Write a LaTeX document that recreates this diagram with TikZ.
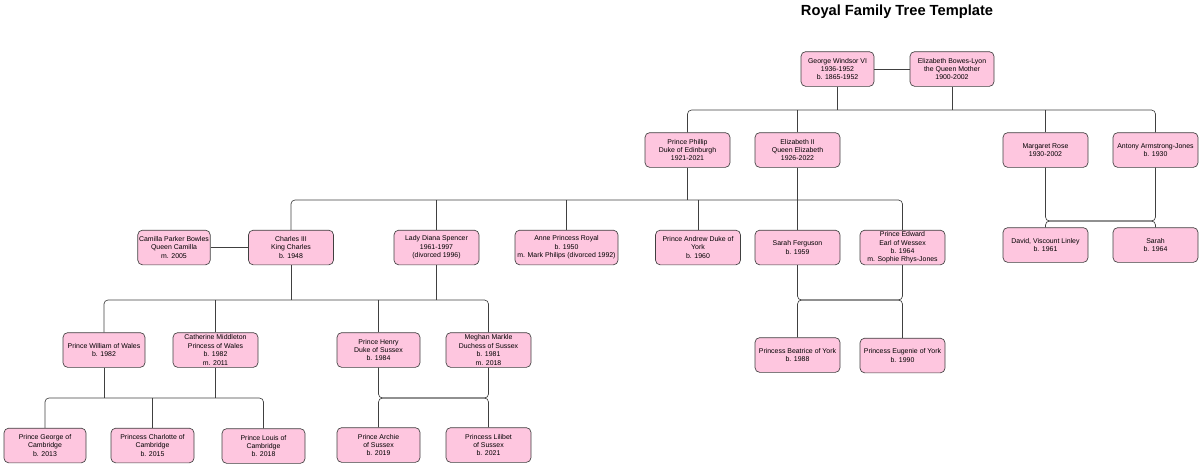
\documentclass[tikz,border=0pt]{standalone}
\usepackage{fontspec}
\setmainfont{Liberation Sans}
\begin{document}
\begin{tikzpicture}[x=0.75pt,y=-0.75pt,
  box/.style={draw=black!75,fill=pinkf,rounded corners=3.5pt,align=center,font=\fontsize{5.2}{6.3}\selectfont,minimum width=#1*0.75pt,minimum height=26pt,inner sep=1pt,line width=0.5pt},
  box/.default=85,
  ln/.style={draw=black!75,line width=0.5pt},
  rc/.style={ln,rounded corners=3pt}]
\definecolor{pinkf}{HTML}{FEC6DF}
\useasboundingbox (0,0) rectangle (1200,469);
\node[font=\bfseries\fontsize{11}{13}\selectfont] (title) at (897,12) {Royal Family Tree Template};
\coordinate (L1) at (0,110);
\coordinate (L2) at (0,200);
\coordinate (L3) at (0,221);
\coordinate (L4) at (0,300);
\coordinate (L6) at (0,398);
% row 1
\node[box=73] (george) at (837.5,69) {George Windsor VI\\1936-1952\\b. 1865-1952};
\node[box=84] (ebl) at (952,69) {Elizabeth Bowes-Lyon\\the Queen Mother\\1900-2002};
% row 2
\node[box] (philip) at (687.5,150) {Prince Phillip\\Duke of Edinburgh\\1921-2021};
\node[box] (elizb) at (797.5,150) {Elizabeth II\\Queen Elizabeth\\1926-2022};
\node[box] (margaret) at (1045.5,150) {Margaret Rose\\1930-2002};
\node[box] (antony) at (1155.5,150) {Antony Armstrong-Jones\\b. 1930};
% row 3
\node[box=72] (camilla) at (174,247.5) {Camilla Parker Bowles\\Queen Camilla\\m. 2005};
\node[box] (charles) at (291,247.5) {Charles III\\King Charles\\b. 1948};
\node[box] (diana) at (436.5,247.5) {Lady Diana Spencer\\1961-1997\\(divorced 1996)};
\node[box=103] (anne) at (566.5,247.5) {Anne Princess Royal\\b. 1950\\m. Mark Philips (divorced 1992)};
\node[box] (andrew) at (698,247.5) {Prince Andrew Duke of\\York\\b. 1960};
\node[box] (sarahf) at (797.5,247.5) {Sarah Ferguson\\b. 1959};
\node[box] (edward) at (902.5,247.5) {Prince Edward\\Earl of Wessex\\b. 1964\\m. Sophie Rhys-Jones};
\node[box] (david) at (1045.5,245) {David, Viscount Linley\\b. 1961};
\node[box] (sarah) at (1155.5,245) {Sarah\\b. 1964};
% row 4
\node[box=82] (william) at (104,350) {Prince William of Wales\\b. 1982};
\node[box] (catherine) at (215.5,350) {Catherine Middleton\\Princess of Wales\\b. 1982\\m. 2011};
\node[box=83] (henry) at (378.5,350) {Prince Henry\\Duke of Sussex\\b. 1984};
\node[box] (meghan) at (488.5,350) {Meghan Markle\\Duchess of Sussex\\b. 1981\\m. 2018};
\node[box] (beatrice) at (797.5,355) {Princess Beatrice of York\\b. 1988};
\node[box] (eugenie) at (902.5,355.5) {Princess Eugenie of York\\b. 1990};
% row 5
\node[box=82] (pgeorge) at (45,445.5) {Prince George of\\Cambridge\\b. 2013};
\node[box=83] (charlotte) at (152.5,445.5) {Princess Charlotte of\\Cambridge\\b. 2015};
\node[box=83] (louis) at (263.5,446) {Prince Louis of\\Cambridge\\b. 2018};
\node[box=83] (archie) at (378.5,445) {Prince Archie\\of Sussex\\b. 2019};
\node[box] (lilibet) at (488.5,445) {Princess Lilibet\\of Sussex\\b. 2021};
% marriages
\draw[ln] (george) -- (ebl);
\draw[ln] (camilla) -- (charles);
% generation 1 -> 2
\draw[ln] (george.south) -- (george.south |- L1);
\draw[ln] (ebl.south) -- (ebl.south |- L1);
\draw[rc] (philip.north) |- (elizb.north |- L1) -| (antony.north);
\draw[ln] (elizb.north) -- (elizb.north |- L1);
\draw[ln] (margaret.north) -- (margaret.north |- L1);
% generation 2 -> 3
\draw[ln] (philip.south) -- (philip.south |- L2);
\draw[ln] (elizb.south) -- (elizb.south |- L2);
\draw[rc] (charles.north) |- (sarahf.north |- L2) -| (edward.north);
\foreach \n in {diana,anne,andrew,sarahf} \draw[ln] (\n.north) -- (\n.north |- L2);
\draw[rc] (margaret.south) |- (antony.south |- L3) -- (antony.south);
\draw[rc] (david.north) |- (sarah.north |- L3) -- (sarah.north);
% generation 3 -> 4
\draw[ln] (charles.south) -- (charles.south |- L4);
\draw[ln] (diana.south) -- (diana.south |- L4);
\draw[rc] (william.north) |- (henry.north |- L4) -| (meghan.north);
\foreach \n in {catherine,henry} \draw[ln] (\n.north) -- (\n.north |- L4);
\draw[rc] (sarahf.south) |- (edward.south |- L4) -- (edward.south);
\draw[rc] (beatrice.north) |- (eugenie.north |- L4) -- (eugenie.north);
% generation 4 -> 5
\draw[ln] (william.south) -- (william.south |- L6);
\draw[ln] (catherine.south) -- (catherine.south |- L6);
\draw[rc] (pgeorge.north) |- (charlotte.north |- L6) -| (louis.north);
\draw[ln] (charlotte.north) -- (charlotte.north |- L6);
\draw[rc] (henry.south) |- (meghan.south |- L6) -- (meghan.south);
\draw[rc] (archie.north) |- (lilibet.north |- L6) -- (lilibet.north);
\end{tikzpicture}
\end{document}
